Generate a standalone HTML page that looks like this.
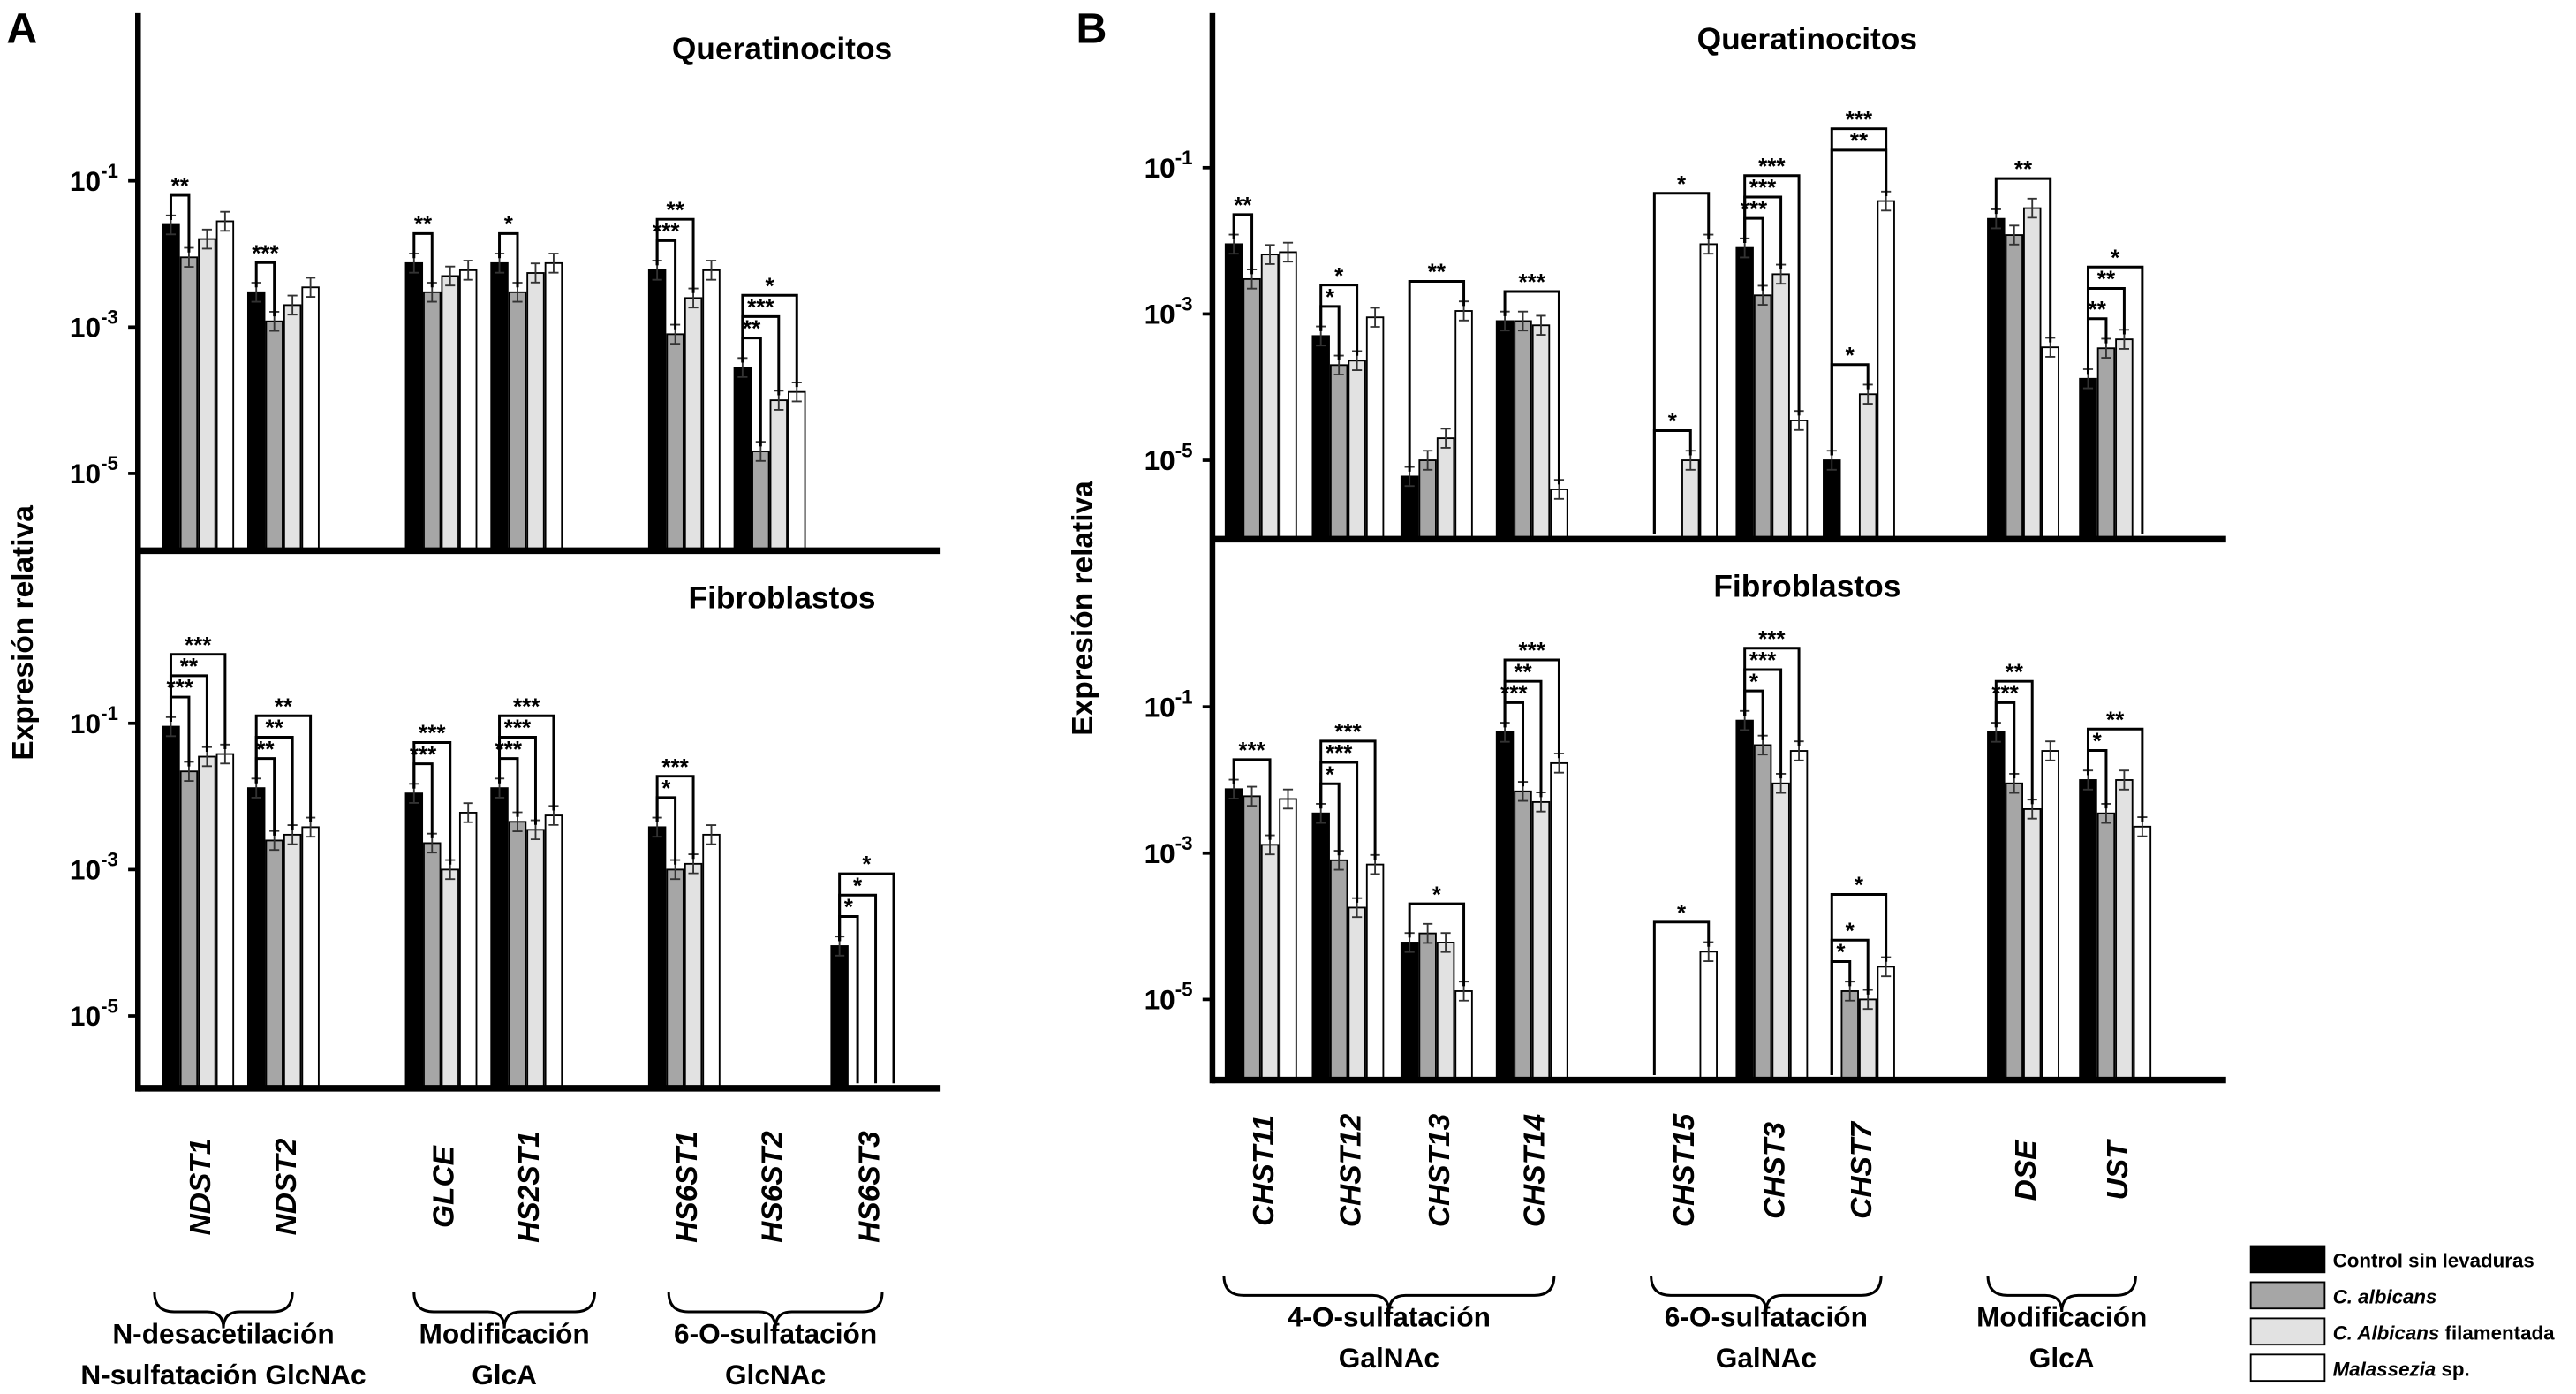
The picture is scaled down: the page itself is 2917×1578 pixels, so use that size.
<!DOCTYPE html>
<html><head><meta charset="utf-8"><style>
html,body{margin:0;padding:0;background:#fff;}
svg{display:block;}
text{font-family:"Liberation Sans",sans-serif;font-weight:bold;fill:#000;}
</style></head><body>
<svg id="fig" width="2917" height="1578" viewBox="0 0 1568 848" preserveAspectRatio="none" xmlns="http://www.w3.org/2000/svg">
<g id="static">
<text x="4" y="26" font-size="26">A</text>
<text x="655" y="26" font-size="26">B</text>
<text x="476" y="36" font-size="19" text-anchor="middle">Queratinocitos</text>
<text x="476" y="370" font-size="19" text-anchor="middle">Fibroblastos</text>
<text x="1100" y="30" font-size="19" text-anchor="middle">Queratinocitos</text>
<text x="1100" y="363" font-size="19" text-anchor="middle">Fibroblastos</text>
<text transform="translate(20,385) rotate(-90)" font-size="18" text-anchor="middle">Expresión relativa</text>
<text transform="translate(665,370) rotate(-90)" font-size="18" text-anchor="middle">Expresión relativa</text>
</g>
<g id="marks"></g>
</svg>
<script>
// ---- data ----
const genesA = ["NDST1","NDST2","GLCE","HS2ST1","HS6ST1","HS6ST2","HS6ST3"];
const genesB = ["CHST11","CHST12","CHST13","CHST14","CHST15","CHST3","CHST7","DSE","UST"];
const seriesNames = ["Control sin levaduras","C. albicans","C. Albicans filamentada","Malassezia sp."];
const aTopControl = [2.5e-2,3e-3,7.5e-3,7.5e-3,6e-3,2.8e-4,0];
const aTopAlb     = [9e-3,1.2e-3,3e-3,3e-3,8e-4,2e-5,0];
const aTopFil     = [1.6e-2,2e-3,5e-3,5.5e-3,2.5e-3,1e-4,0];
const aTopMal     = [2.8e-2,3.5e-3,6e-3,7.5e-3,6e-3,1.3e-4,0];
const aBotControl = [9e-2,1.3e-2,1.1e-2,1.3e-2,3.8e-3,0,9e-5];
const aBotAlb     = [2.2e-2,2.5e-3,2.3e-3,4.5e-3,1e-3,0,0];
const aBotFil     = [3.5e-2,3e-3,1e-3,3.5e-3,1.2e-3,0,0];
const aBotMal     = [3.8e-2,3.8e-3,6e-3,5.5e-3,3e-3,0,0];
const bTopControl = [9e-3,5e-4,6e-6,8e-4,0,8e-3,1e-5,2e-2,1.3e-4];
const bTopAlb     = [3e-3,2e-4,1e-5,8e-4,0,1.8e-3,0,1.2e-2,3.4e-4];
const bTopFil     = [6.5e-3,2.3e-4,2e-5,7e-4,1e-5,3.5e-3,8e-5,2.8e-2,4.5e-4];
const bTopMal     = [7e-3,9e-4,1.1e-3,4e-6,9e-3,3.5e-5,3.5e-2,3.5e-4,0];
const bBotControl = [7.5e-3,3.5e-3,6e-5,4.5e-2,0,6.5e-2,0,4.5e-2,1e-2];
const bBotAlb     = [6e-3,8e-4,8e-5,7e-3,0,3e-2,1.3e-5,9e-3,3.5e-3];
const bBotFil     = [1.3e-3,1.8e-4,6e-5,5e-3,0,9e-3,1e-5,4e-3,1e-2];
const bBotMal     = [5.5e-3,7e-4,1.3e-5,1.7e-2,4.5e-5,2.5e-2,2.8e-5,2.5e-2,2.3e-3];
const tickExps = [-1,-3,-5];
// significance: [geneIndex, targetSeries, label]
const sigATop = [[0,1,"**"],[1,1,"***"],[2,1,"**"],[3,1,"*"],[4,1,"***"],[4,2,"**"],[5,1,"**"],[5,2,"***"],[5,3,"*"]];
const sigABot = [[0,1,"***"],[0,2,"**"],[0,3,"***"],[1,1,"**"],[1,2,"**"],[1,3,"**"],[2,1,"***"],[2,2,"***"],[3,1,"***"],[3,2,"***"],[3,3,"***"],[4,1,"*"],[4,2,"***"],[6,1,"*"],[6,2,"*"],[6,3,"*"]];
const sigBTop = [[0,1,"**"],[1,1,"*"],[1,2,"*"],[2,3,"**"],[3,3,"***"],[4,2,"*"],[4,3,"*"],[5,1,"***"],[5,2,"***"],[5,3,"***"],[6,2,"*"],[6,3,"**"],[6,3,"***"],[7,3,"**"],[8,1,"**"],[8,2,"**"],[8,3,"*"]];
const sigBBot = [[0,2,"***"],[1,1,"*"],[1,2,"***"],[1,3,"***"],[2,3,"*"],[3,1,"***"],[3,2,"**"],[3,3,"***"],[4,3,"*"],[5,1,"*"],[5,2,"***"],[5,3,"***"],[6,1,"*"],[6,2,"*"],[6,3,"*"],[7,1,"***"],[7,2,"**"],[8,1,"*"],[8,3,"**"]];

// ---- layout ----
const NS="http://www.w3.org/2000/svg";
const marks=document.getElementById('marks');
function el(tag,attrs,parent){const e=document.createElementNS(NS,tag);for(const k in attrs)e.setAttribute(k,attrs[k]);(parent||marks).appendChild(e);return e;}
const fills=["#000","#a6a6a6","#e2e2e2","#fff"];
const BW=10, STEP=11;
function drawPanel(cfg,genes,series,sig,tag){
  const g=el('g',{});
  
  
  const y=v=>cfg.y1+(-1-Math.log10(v))*cfg.dec;
  tickExps.forEach(e=>{
    const ty=y(Math.pow(10,e));
    const l=el('line',{x1:cfg.ax-6,x2:cfg.ax,y1:ty,y2:ty,stroke:'#000','stroke-width':2},g);
    
    
    const t=el('text',{x:cfg.ax-12,y:ty+6,'font-size':17,'text-anchor':'end'},g);
    
    
    t.textContent='10';
    const s=el('tspan',{dy:-8,'font-size':12},t);s.textContent=String(e);
  });
  const tops=[];
  genes.forEach((gn,gi)=>{
    tops.push([]);
    series.forEach((arr,si)=>{
      const v=arr[gi];const x=cfg.starts[gi]+si*STEP;
      if(v>0){
        const ty=y(v);
        const r=el('rect',{x:x,y:ty,width:BW,height:cfg.base-ty,fill:fills[si],stroke:'#000','stroke-width':1},g);
        
        
        const e1=y(v*1.35),e2=y(v/1.35);
        const eb=el('path',{d:`M${x+5},${e1}V${Math.min(e2,cfg.base)}M${x+2},${e1}H${x+8}M${x+2},${Math.min(e2,cfg.base)}H${x+8}`,stroke:'#333','stroke-width':1,fill:'none'},g);
        
        
        tops[gi].push(ty);
      } else tops[gi].push(cfg.base);
    });
  });
  const lvl={};
  sig.forEach(([gi,ti,lab])=>{
    lvl[gi]=(lvl[gi]||0);
    const xs=cfg.starts[gi]+5, xt=cfg.starts[gi]+ti*STEP+5;
    let mn=Infinity;for(let k=0;k<=ti;k++)mn=Math.min(mn,tops[gi][k]-6);
    const yt=Math.min(mn,tops[gi][0]-6)-12-lvl[gi]*13;
    lvl[gi]++;
    const p=el('path',{d:`M${xs},${tops[gi][0]-3}V${yt}H${xt}V${tops[gi][ti]-3}`,stroke:'#000','stroke-width':1.6,fill:'none'},g);
    
    
    const t=el('text',{x:(xs+xt)/2,y:yt-1,'font-size':14,'text-anchor':'middle'},g);
    
    
    t.textContent=lab;
  });
  const b=el('line',{x1:cfg.ax,x2:cfg.xend,y1:cfg.base,y2:cfg.base,stroke:'#000','stroke-width':4},g);
  
  
}
function drawAxisAndLabels(ax,ytop,ybot,starts,genes,ly,tag){
  const a=el('line',{x1:ax,x2:ax,y1:ytop,y2:ybot,stroke:'#000','stroke-width':3.5});
  
  
  genes.forEach((gn,gi)=>{
    const cx=starts[gi]+22;
    const t=el('text',{transform:`translate(${cx+7},${ly}) rotate(-90)`,'font-size':18,'font-style':'italic','text-anchor':'middle'});
    
    
    t.textContent=gn;
  });
}
function brace(x1,x2,yb,lines,tag){
  const m=(x1+x2)/2;
  const p=el('path',{d:`M${x1},${yb}Q${x1},${yb+12} ${x1+12},${yb+12}H${m-10}Q${m},${yb+12} ${m},${yb+22}Q${m},${yb+12} ${m+10},${yb+12}H${x2-12}Q${x2},${yb+12} ${x2},${yb}`,stroke:'#000','stroke-width':1.6,fill:'none'});
  
  
  lines.forEach((s,i)=>{
    const t=el('text',{x:m,y:yb+31+i*25,'font-size':17,'text-anchor':'middle'});
    
    
    t.textContent=s;
  });
}
const startsA=[99,151,247,299,395,447,506];
const startsB=[746,799,853,911,1002,1057,1110,1210,1266];
drawPanel({ax:84,xend:572,y1:110,dec:44.5,base:335,starts:startsA},genesA,[aTopControl,aTopAlb,aTopFil,aTopMal],sigATop,'a-top');
drawPanel({ax:84,xend:572,y1:440,dec:44.5,base:662,starts:startsA},genesA,[aBotControl,aBotAlb,aBotFil,aBotMal],sigABot,'a-bottom');
drawPanel({ax:738,xend:1355,y1:102,dec:44.5,base:328,starts:startsB},genesB,[bTopControl,bTopAlb,bTopFil,bTopMal],sigBTop,'b-top');
drawPanel({ax:738,xend:1355,y1:430,dec:44.5,base:657,starts:startsB},genesB,[bBotControl,bBotAlb,bBotFil,bBotMal],sigBBot,'b-bottom');
drawAxisAndLabels(84,8,664,startsA,genesA,722,'a');
drawAxisAndLabels(738,8,659,startsB,genesB,712,'b');
brace(94,178,786,["N-desacetilación","N-sulfatación GlcNAc"],'a-n-sulf');
brace(252,362,786,["Modificación","GlcA"],'a-glca');
brace(407,537,786,["6-O-sulfatación","GlcNAc"],'a-6o-sulf');
brace(745,946,776,["4-O-sulfatación","GalNAc"],'b-4o-sulf');
brace(1005,1145,776,["6-O-sulfatación","GalNAc"],'b-6o-sulf');
brace(1210,1300,776,["Modificación","GlcA"],'b-glca');
seriesNames.forEach((n,i)=>{
  const yy=758+i*22;
  const r=el('rect',{x:1370,y:yy,width:45,height:16,fill:fills[i],stroke:'#000','stroke-width':1});
  
  
  const t=el('text',{x:1420,y:yy+13,'font-size':12});
  
  
  if(i===1){const s=el('tspan',{'font-style':'italic'},t);s.textContent='C. albicans';}
  else if(i===2){const s=el('tspan',{'font-style':'italic'},t);s.textContent='C. Albicans';const s2=el('tspan',{},t);s2.textContent=' filamentada';}
  else if(i===3){const s=el('tspan',{'font-style':'italic'},t);s.textContent='Malassezia';const s2=el('tspan',{},t);s2.textContent=' sp.';}
  else t.textContent=n;
});
</script>
</body></html>
